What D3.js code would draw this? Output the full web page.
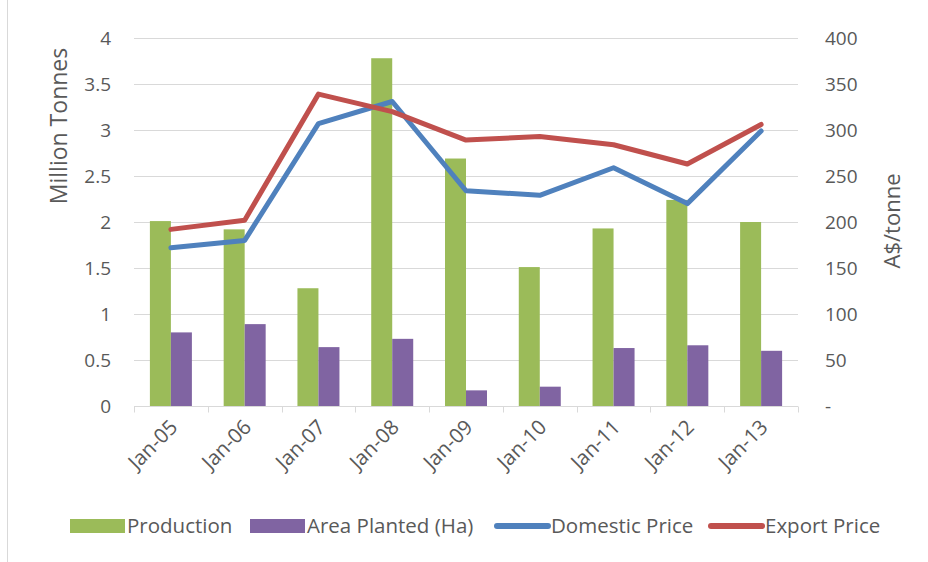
<!DOCTYPE html>
<html><head><meta charset="utf-8">
<script src="https://cdn.jsdelivr.net/npm/d3@7"></script>
<style>body{margin:0;background:#fff;}svg{display:block;font-family:"Open Sans",sans-serif;}</style>
</head><body><svg id="c" width="928" height="562"></svg>
<script>
const categories = ["Jan-05","Jan-06","Jan-07","Jan-08","Jan-09","Jan-10","Jan-11","Jan-12","Jan-13"];
const production = [2.01,1.92,1.28,3.78,2.69,1.51,1.93,2.24,2.0];
const areaPlanted = [0.80,0.89,0.64,0.73,0.17,0.21,0.63,0.66,0.60];
const domesticPrice = [172,180,307,331,234,229,259,220,299];
const exportPrice = [192,202,339,320,289,293,284,263,306];
const leftTicks = [0,0.5,1,1.5,2,2.5,3,3.5,4];
const rightTicks = [0,50,100,150,200,250,300,350,400];

const svg = d3.select("#c");
const L = 134, R = 798, T = 38, B = 406;
const txt = "#595959";
const x = d3.scaleBand().domain(categories).range([L, R]).paddingInner(0).paddingOuter(0);
const yL = d3.scaleLinear().domain([0,4]).range([B, T]);
const yR = d3.scaleLinear().domain([0,400]).range([B, T]);

// frame left line
svg.append("line").attr("x1",7.5).attr("x2",7.5).attr("y1",0).attr("y2",562).attr("stroke","#d9d9d9");

// gridlines
svg.append("g").selectAll("line").data(leftTicks.slice(1)).join("line")
  .attr("x1",L).attr("x2",R).attr("y1",d=>Math.round(yL(d))+0.5).attr("y2",d=>Math.round(yL(d))+0.5)
  .attr("stroke","#d9d9d9").attr("stroke-width",1);

// bars
const bw = 21;
const g = svg.append("g");
g.selectAll(".p").data(production).join("rect")
  .attr("x",(d,i)=>x(categories[i])+x.bandwidth()/2-bw).attr("width",bw)
  .attr("y",d=>yL(d)).attr("height",d=>B-yL(d)).attr("fill","#9BBB59");
g.selectAll(".a").data(areaPlanted).join("rect")
  .attr("x",(d,i)=>x(categories[i])+x.bandwidth()/2).attr("width",bw)
  .attr("y",d=>yL(d)).attr("height",d=>B-yL(d)).attr("fill","#8064A2");

// x axis
const xa = svg.append("g").attr("transform",`translate(0,${B+0.5})`);
xa.append("line").attr("x1",L).attr("x2",R).attr("stroke","#d9d9d9");
xa.selectAll(".tk").data(d3.range(categories.length+1)).join("line")
  .attr("x1",i=>Math.round(L+i*x.step())+0.5).attr("x2",i=>Math.round(L+i*x.step())+0.5)
  .attr("y1",0).attr("y2",6).attr("stroke","#d9d9d9");
xa.selectAll("text").data(categories).join("text")
  .attr("transform",d=>`translate(${x(d)+x.bandwidth()/2+8},${22}) rotate(-45)`)
  .attr("text-anchor","end").attr("fill",txt).attr("font-size",20.5).text(d=>d);

// lines
const line = arr => d3.line().x((d,i)=>x(categories[i])+x.bandwidth()/2).y(d=>yR(d))(arr);
svg.append("path").attr("d",line(domesticPrice)).attr("fill","none").attr("stroke","#4F81BD").attr("stroke-width",5).attr("stroke-linecap","round").attr("stroke-linejoin","round");
svg.append("path").attr("d",line(exportPrice)).attr("fill","none").attr("stroke","#C0504D").attr("stroke-width",5).attr("stroke-linecap","round").attr("stroke-linejoin","round");

// left axis labels
svg.append("g").selectAll("text").data(leftTicks).join("text")
  .attr("x",111).attr("y",d=>yL(d)).attr("dy","0.35em").attr("text-anchor","end")
  .attr("fill",txt).attr("font-size",19).text(d=>d3.format("")(d));
// right axis labels
svg.append("g").selectAll("text").data(rightTicks).join("text")
  .attr("x",825).attr("y",d=>yR(d)).attr("dy","0.35em").attr("text-anchor","start")
  .attr("fill",txt).attr("font-size",19).text(d=>d===0?"-":d);

// axis titles
svg.append("text").attr("transform","translate(67,126) rotate(-90)").attr("text-anchor","middle")
  .attr("fill",txt).attr("font-size",23).text("Million Tonnes");
svg.append("text").attr("transform","translate(900,221) rotate(-90)").attr("text-anchor","middle")
  .attr("fill",txt).attr("font-size",22).text("A$/tonne");

// legend
const legend = [
  {name:"Production", color:"#9BBB59", type:"rect", x:70},
  {name:"Area Planted (Ha)", color:"#8064A2", type:"rect", x:250},
  {name:"Domestic Price", color:"#4F81BD", type:"line", x:494},
  {name:"Export Price", color:"#C0504D", type:"line", x:708}
];
const lg = svg.append("g");
const ly = 526;
legend.forEach(d=>{
  if(d.type==="rect") lg.append("rect").attr("x",d.x).attr("y",ly-7).attr("width",55).attr("height",14).attr("fill",d.color);
  else lg.append("line").attr("x1",d.x+3).attr("x2",d.x+54).attr("y1",ly).attr("y2",ly).attr("stroke",d.color).attr("stroke-width",6).attr("stroke-linecap","round");
  lg.append("text").attr("x",d.x+57).attr("y",ly).attr("dy","0.35em").attr("fill",txt).attr("font-size",20.5).text(d.name);
});
</script></body></html>
